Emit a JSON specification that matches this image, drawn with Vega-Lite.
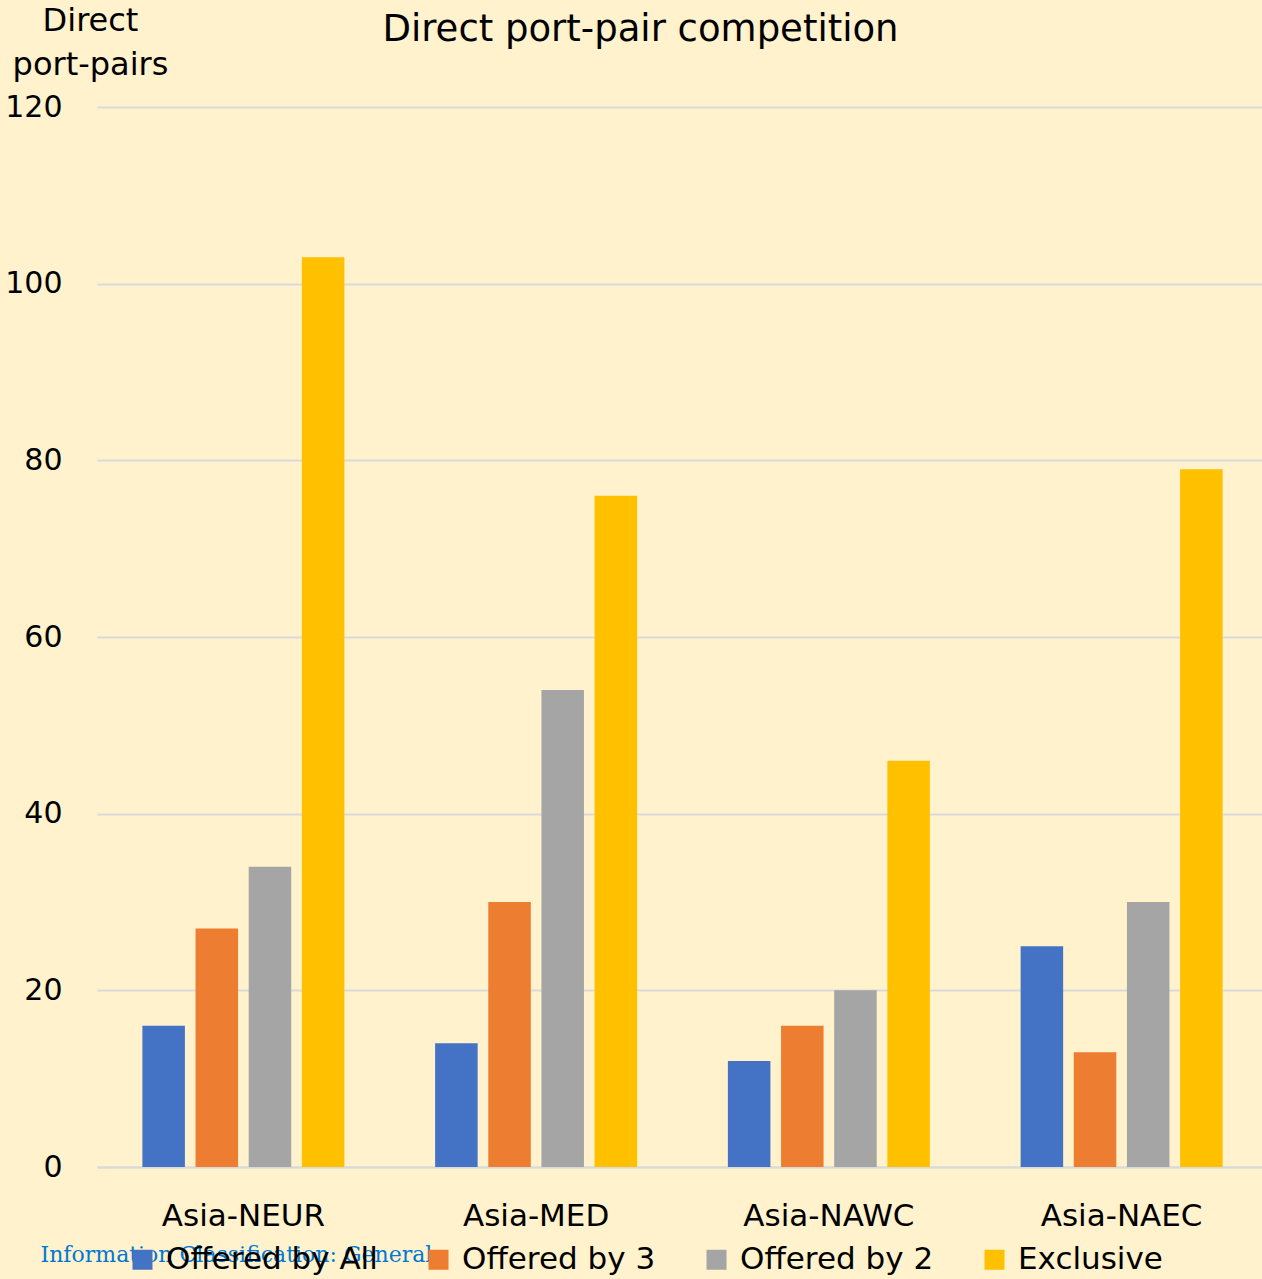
{
  "$schema": "https://vega.github.io/schema/vega-lite/v6.json",
  "width": 1171,
  "height": 1060,
  "autosize": {"type": "none"},
  "padding": {"left": 97, "top": 107, "right": 0, "bottom": 112},
  "background": "#FFF2CC",
  "config": {
    "font": "DejaVu Sans",
    "view": {"stroke": null}
  },
  "title": {
    "text": "Direct port-pair competition",
    "fontSize": 37,
    "fontWeight": "normal",
    "color": "#000000",
    "anchor": "middle",
    "baseline": "alphabetic",
    "offset": 0,
    "dy": 74,
    "dx": -42
  },
  "data": {
    "values": [
      {"route": "Asia-NEUR", "category": "Offered by All", "value": 16},
      {"route": "Asia-NEUR", "category": "Offered by 3", "value": 27},
      {"route": "Asia-NEUR", "category": "Offered by 2", "value": 34},
      {"route": "Asia-NEUR", "category": "Exclusive", "value": 103},
      {"route": "Asia-MED", "category": "Offered by All", "value": 14},
      {"route": "Asia-MED", "category": "Offered by 3", "value": 30},
      {"route": "Asia-MED", "category": "Offered by 2", "value": 54},
      {"route": "Asia-MED", "category": "Exclusive", "value": 76},
      {"route": "Asia-NAWC", "category": "Offered by All", "value": 12},
      {"route": "Asia-NAWC", "category": "Offered by 3", "value": 16},
      {"route": "Asia-NAWC", "category": "Offered by 2", "value": 20},
      {"route": "Asia-NAWC", "category": "Exclusive", "value": 46},
      {"route": "Asia-NAEC", "category": "Offered by All", "value": 25},
      {"route": "Asia-NAEC", "category": "Offered by 3", "value": 13},
      {"route": "Asia-NAEC", "category": "Offered by 2", "value": 30},
      {"route": "Asia-NAEC", "category": "Exclusive", "value": 79}
    ]
  },
  "mark": {"type": "bar"},
  "encoding": {
    "x": {
      "field": "route",
      "type": "nominal",
      "sort": ["Asia-NEUR", "Asia-MED", "Asia-NAWC", "Asia-NAEC"],
      "scale": {"paddingInner": 0.31, "paddingOuter": 0.155},
      "axis": {
        "title": "Information Classification: General",
        "titleFont": "DejaVu Serif",
        "titleFontSize": 22,
        "titleFontWeight": "normal",
        "titleColor": "#0078D4",
        "titleAnchor": "start",
        "titleAlign": "left",
        "titleBaseline": "alphabetic",
        "titleX": -57,
        "titleY": 94,
        "labelAngle": 0,
        "labelFontSize": 31,
        "labelColor": "#000000",
        "labelPadding": 34,
        "ticks": false,
        "domainColor": "#D9D9D9",
        "domainWidth": 2
      }
    },
    "xOffset": {
      "field": "category",
      "type": "nominal",
      "sort": ["Offered by All", "Offered by 3", "Offered by 2", "Exclusive"],
      "scale": {"paddingInner": 0.2, "paddingOuter": 0}
    },
    "y": {
      "field": "value",
      "type": "quantitative",
      "scale": {"domain": [0, 120]},
      "axis": {
        "values": [0, 20, 40, 60, 80, 100, 120],
        "title": ["Direct", "port-pairs"],
        "titleAngle": 0,
        "titleAlign": "center",
        "titleBaseline": "alphabetic",
        "titleX": -7,
        "titleY": -77,
        "titleLineHeight": 44,
        "titleFontSize": 32,
        "titleFontWeight": "normal",
        "titleColor": "#000000",
        "labelFontSize": 30,
        "labelColor": "#000000",
        "labelPadding": 35,
        "ticks": false,
        "domain": false,
        "gridColor": "#D9D9D9",
        "gridWidth": 2
      }
    },
    "color": {
      "field": "category",
      "type": "nominal",
      "sort": ["Offered by All", "Offered by 3", "Offered by 2", "Exclusive"],
      "scale": {
        "domain": ["Offered by All", "Offered by 3", "Offered by 2", "Exclusive"],
        "range": ["#4472C4", "#ED7D31", "#A5A5A5", "#FFC000"]
      },
      "legend": {
        "title": null,
        "orient": "none",
        "direction": "horizontal",
        "legendX": 30,
        "legendY": 1137,
        "symbolType": "square",
        "symbolSize": 400,
        "symbolStrokeWidth": 0,
        "symbolOpacity": 1,
        "labelFontSize": 31,
        "labelColor": "#000000",
        "labelOffset": 8,
        "columnPadding": 45,
        "labelLimit": 400
      }
    }
  }
}
